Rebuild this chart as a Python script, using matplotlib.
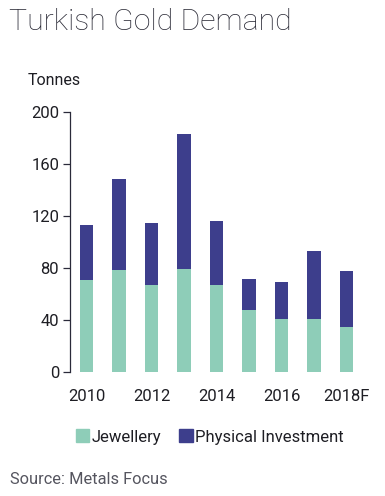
import numpy as np
import matplotlib.pyplot as plt
from matplotlib.patches import Patch

# データ（トン）
years = ['2010', '2011', '2012', '2013', '2014', '2015', '2016', '2017', '2018F']
jewellery = [70.5, 78.5, 67, 79.5, 67, 48, 40.5, 40.5, 34.5]
investment_total = [113, 149, 115, 183.5, 116.5, 72, 69.5, 93, 77.5]
investment = [t - j for t, j in zip(investment_total, jewellery)]

c_jew = '#8ecdb8'
c_inv = '#3d3e8c'
txt = '#1e1e24'

plt.rcParams['font.family'] = ['Roboto', 'DejaVu Sans']

fig = plt.figure(figsize=(3.85, 4.96), dpi=100)
ax = fig.add_axes([0.1826, 0.25, 0.76, 0.5236])

x = np.arange(len(years))
ax.bar(x, jewellery, width=0.42, color=c_jew, edgecolor='none')
ax.bar(x, investment, width=0.42, bottom=jewellery, color=c_inv, edgecolor='none')

ax.set_xlim(-0.5, 8.5)
ax.set_ylim(0, 200)
ax.set_yticks(range(0, 201, 40))
ax.set_xticks(x[::2])
ax.set_xticklabels(years[::2])

for s in ['top', 'right', 'bottom']:
    ax.spines[s].set_visible(False)
ax.spines['left'].set_color('#2a2a3a')
ax.spines['left'].set_linewidth(0.9)
ax.tick_params(axis='y', length=5, width=0.9, color='#2a2a3a', labelsize=12, labelcolor=txt, pad=3)
ax.tick_params(axis='x', length=0, labelsize=12, labelcolor=txt, pad=12)

fig.text(0.024, 0.955, 'Turkish Gold Demand', fontsize=21.8, fontweight='light',
         color='#2c2c38', va='center', ha='left')
fig.text(0.073, 0.837, 'Tonnes', fontsize=11.5, color=txt, va='center', ha='left')

handles = [Patch(color=c_jew, label='Jewellery'), Patch(color=c_inv, label='Physical Investment')]
fig.legend(handles=handles, loc='center', bbox_to_anchor=(0.545, 0.119), ncol=2, frameon=False,
           fontsize=12, handlelength=0.8, handleheight=0.8, handletextpad=0.15,
           columnspacing=1.1, labelcolor=txt)

fig.text(0.026, 0.034, 'Source: Metals Focus', fontsize=11.8, color='#55555f', va='center', ha='left')

fig.savefig('out.png', dpi=100)
